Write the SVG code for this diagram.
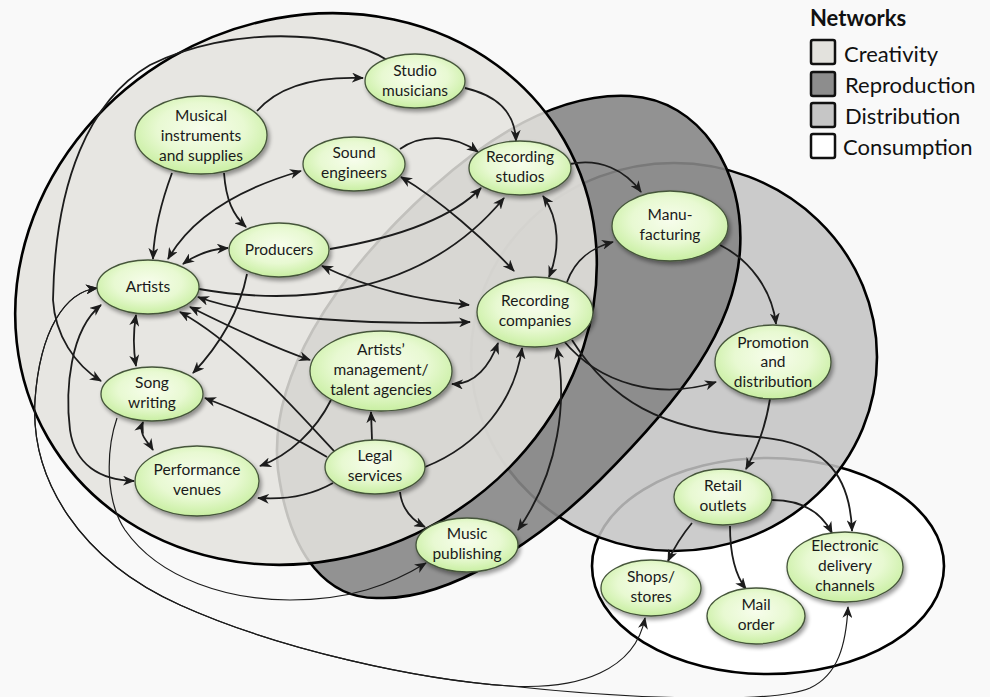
<svg xmlns="http://www.w3.org/2000/svg" width="990" height="697" viewBox="0 0 990 697">
<defs>
<style>
.net{stroke:#000;stroke-width:2.6}
.n ellipse{fill:url(#ng);stroke:#45553a;stroke-width:1.3;filter:url(#sh)}
.n text{font-family:Lato,"Liberation Sans",sans-serif;font-size:15.5px;fill:#1a1a1a;text-anchor:middle}
.e path{fill:none;stroke:#1c1c1c;stroke-width:1.8}
.e path.t{stroke-width:1.2}
.a1{marker-end:url(#ah)}
.a2{marker-start:url(#ah);marker-end:url(#ah)}
.leg text{font-family:Lato,"Liberation Sans",sans-serif;font-size:22px;fill:#111}
.leg rect{stroke:#111;stroke-width:2.5}
</style>
<radialGradient id="ng" cx="50%" cy="42%" r="60%">
<stop offset="0" stop-color="#f7fdec"/>
<stop offset="0.55" stop-color="#e8f9d2"/>
<stop offset="1" stop-color="#c6ee9e"/>
</radialGradient>
<filter id="sh" x="-20%" y="-20%" width="150%" height="160%">
<feGaussianBlur in="SourceAlpha" stdDeviation="2"/>
<feOffset dx="1.5" dy="2.5"/>
<feComponentTransfer><feFuncA type="linear" slope="0.4"/></feComponentTransfer>
<feMerge><feMergeNode/><feMergeNode in="SourceGraphic"/></feMerge>
</filter>
<marker id="ah" viewBox="0 0 12 10" refX="11" refY="5" markerWidth="12" markerHeight="10" markerUnits="userSpaceOnUse" orient="auto-start-reverse">
<path d="M0,0 L12,5 L0,10 L3.5,5 z" fill="#1c1c1c"/>
</marker>
</defs>
<rect width="990" height="697" fill="#f9f9f9"/>
<g id="networks">
<ellipse id="consumption" class="net" cx="768" cy="566" rx="176" ry="108" fill="#ffffff"/>
<ellipse id="distribution" class="net" cx="674" cy="357" rx="203" ry="194" fill="#c4c4c4" fill-opacity="0.86"/>
<path id="reproduction" class="net" d="M 278,470 C 268,380 330,280 433,187 C 490,136 560,92 630,96 C 700,100 745,170 740,250 C 735,330 680,400 600,480 C 540,540 450,600 380,598 C 330,600 290,560 278,470 Z" fill="#868686" fill-opacity="0.9"/>
<ellipse id="creativity" class="net" cx="306" cy="289" rx="298" ry="268" transform="rotate(-30 306 289)" fill="#e4e3de" fill-opacity="0.85"/>
</g>
<g id="connectors" class="e">
<path class="a1" d="M 257,111 C 277,88 310,76 363,78"/>
<path class="a1" d="M 172,173 C 162,200 154,230 153,259"/>
<path class="a1" d="M 224,173 C 226,200 233,215 246,227"/>
<path class="a2" d="M 168,259 C 190,220 235,190 301,171"/>
<path class="a2" d="M 183,264 C 198,253 212,249 228,248"/>
<path class="a1" d="M 465,88 C 495,95 515,110 516,141"/>
<path class="a1" d="M 400,149 C 422,133 455,135 478,152"/>
<path class="a2" d="M 401,177 C 440,200 485,240 514,271"/>
<path class="a1" d="M 330,249 C 400,237 452,218 481,188"/>
<path class="a1" d="M 199,289 C 290,305 420,300 504,198"/>
<path class="a2" d="M 322,266 C 372,290 420,300 469,305"/>
<path class="a2" d="M 198,297 C 260,320 380,325 470,322"/>
<path class="a2" d="M 190,307 C 230,327 270,346 310,360"/>
<path class="a1" d="M 335,452 C 300,415 240,345 180,312"/>
<path class="a1" d="M 327,457 C 290,435 250,415 205,398"/>
<path class="a1" d="M 331,400 C 316,430 290,455 260,466"/>
<path class="a1" d="M 333,483 C 310,496 285,500 258,498"/>
<path class="a1" d="M 372,440 L 371,412"/>
<path class="a1" d="M 400,492 C 402,510 412,520 425,527"/>
<path class="a1" d="M 425,467 C 480,445 515,400 522,348"/>
<path class="a2" d="M 452,384 C 475,385 490,365 498,343"/>
<path class="a2" d="M 518,530 C 560,470 567,400 557,348"/>
<path class="a2" d="M 543,196 C 560,220 560,250 549,277"/>
<path class="a1" d="M 570,164 C 600,158 625,170 641,192"/>
<path class="a1" d="M 567,282 C 575,260 590,248 613,242"/>
<path class="a1" d="M 720,245 C 750,260 772,290 776,324"/>
<path class="a1" d="M 563,340 C 600,385 660,400 716,382"/>
<path class="a1" d="M 572,340 C 610,400 660,430 757,437 C 820,442 850,470 852,531"/>
<path class="a1" d="M 770,399 C 765,430 756,450 746,469"/>
<path class="a1" d="M 772,500 C 800,500 820,510 832,533"/>
<path class="a1" d="M 692,523 C 682,535 674,548 668,561"/>
<path class="a1" d="M 730,526 C 730,555 735,575 746,589"/>
<path class="a1" d="M 387,60 C 340,30 230,25 150,65 C 90,100 55,180 53,300 C 55,335 75,365 101,381"/>
<path class="a2" d="M 136,315 C 133,333 133,348 136,366"/>
<path class="a2" d="M 143,422 C 138,435 148,442 153,450"/>
<path class="a1" d="M 247,274 C 240,310 220,345 193,373"/>
<path class="a2" d="M 101,305 C 70,330 65,390 70,430 C 75,465 100,480 134,481"/>
<path class="a1 t" d="M 117,418 C 106,450 105,500 125,530 C 160,580 230,600 290,600 C 350,600 390,585 426,563"/>
<path class="a2 t" d="M 97,288 C 65,292 40,330 35,400 C 30,480 80,560 180,605 C 280,650 420,680 510,686 C 580,690 635,670 645,618"/>
<path class="a2 t" d="M 97,288 C 65,292 40,330 35,400 C 30,480 80,560 180,605 C 280,650 420,680 510,686 C 620,698 770,705 810,688 C 838,675 846,645 848,607"/>
</g>
<g id="n-studio-musicians" class="n"><ellipse cx="415" cy="81" rx="50" ry="27"/><text x="415" y="76">Studio</text><text x="415" y="96">musicians</text></g>
<g id="n-musical-instruments" class="n"><ellipse cx="201" cy="135" rx="66" ry="39"/><text x="201" y="121">Musical</text><text x="201" y="141">instruments</text><text x="201" y="161">and supplies</text></g>
<g id="n-sound-engineers" class="n"><ellipse cx="354" cy="164" rx="51" ry="27"/><text x="354" y="158">Sound</text><text x="354" y="178">engineers</text></g>
<g id="n-producers" class="n"><ellipse cx="279" cy="250" rx="50" ry="27"/><text x="279" y="255">Producers</text></g>
<g id="n-artists" class="n"><ellipse cx="148" cy="287" rx="51" ry="27"/><text x="148" y="292">Artists</text></g>
<g id="n-recording-studios" class="n"><ellipse cx="520" cy="168" rx="51" ry="27"/><text x="520" y="162">Recording</text><text x="520" y="182">studios</text></g>
<g id="n-manufacturing" class="n"><ellipse cx="670" cy="226" rx="58" ry="35"/><text x="670" y="220">Manu-</text><text x="670" y="240">facturing</text></g>
<g id="n-recording-companies" class="n"><ellipse cx="535" cy="312" rx="58" ry="35"/><text x="535" y="306">Recording</text><text x="535" y="326">companies</text></g>
<g id="n-artists-management" class="n"><ellipse cx="381" cy="371" rx="71" ry="40"/><text x="381" y="355">Artists’</text><text x="381" y="375">management/</text><text x="381" y="395">talent agencies</text></g>
<g id="n-promotion" class="n"><ellipse cx="773" cy="362" rx="58" ry="37"/><text x="773" y="348">Promotion</text><text x="773" y="367">and</text><text x="773" y="387">distribution</text></g>
<g id="n-song-writing" class="n"><ellipse cx="152" cy="394" rx="51" ry="27"/><text x="152" y="388">Song</text><text x="152" y="408">writing</text></g>
<g id="n-performance-venues" class="n"><ellipse cx="197" cy="481" rx="62" ry="35"/><text x="197" y="475">Performance</text><text x="197" y="495">venues</text></g>
<g id="n-legal-services" class="n"><ellipse cx="375" cy="467" rx="50" ry="27"/><text x="375" y="461">Legal</text><text x="375" y="481">services</text></g>
<g id="n-music-publishing" class="n"><ellipse cx="467" cy="545" rx="51" ry="27"/><text x="467" y="539">Music</text><text x="467" y="559">publishing</text></g>
<g id="n-retail-outlets" class="n"><ellipse cx="723" cy="497" rx="49" ry="28"/><text x="723" y="491">Retail</text><text x="723" y="511">outlets</text></g>
<g id="n-shops" class="n"><ellipse cx="651" cy="588" rx="50" ry="28"/><text x="651" y="582">Shops/</text><text x="651" y="602">stores</text></g>
<g id="n-mail-order" class="n"><ellipse cx="756" cy="616" rx="49" ry="28"/><text x="756" y="610">Mail</text><text x="756" y="630">order</text></g>
<g id="n-electronic" class="n"><ellipse cx="845" cy="567" rx="58" ry="35"/><text x="845" y="551">Electronic</text><text x="845" y="571">delivery</text><text x="845" y="591">channels</text></g>
<g id="legend" class="leg">
<text x="810" y="26" font-weight="bold">Networks</text>
<rect x="811" y="40" width="24" height="24" rx="2" fill="#e3e2dd"/>
<rect x="811" y="72" width="24" height="24" rx="2" fill="#8d8d8d"/>
<rect x="811" y="103" width="24" height="24" rx="2" fill="#c6c6c6"/>
<rect x="811" y="134" width="24" height="24" rx="2" fill="#ffffff"/>
<text x="844" y="62">Creativity</text>
<text x="845" y="93">Reproduction</text>
<text x="845" y="124">Distribution</text>
<text x="843" y="155">Consumption</text>
</g>
</svg>
